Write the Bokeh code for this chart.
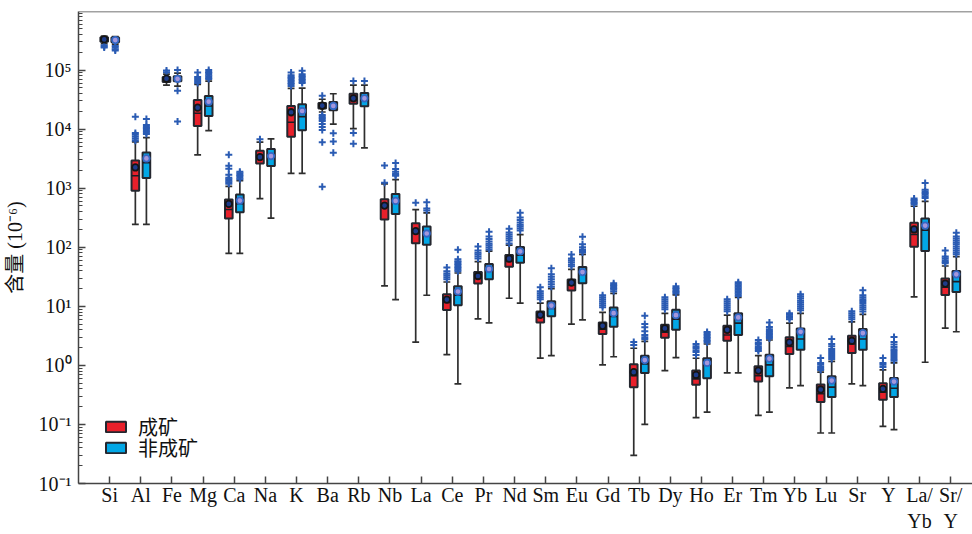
import numpy as np
from bokeh.plotting import figure
from bokeh.models import (ColumnDataSource, Range1d, FixedTicker, CustomJSTickFormatter,
                          Span, Legend, LegendItem)
from bokeh.embed import file_html
from bokeh.resources import INLINE

# ---------------- data ----------------
categories = ["Si", "Al", "Fe", "Mg", "Ca", "Na", "K", "Ba", "Rb", "Nb", "La", "Ce", "Pr", "Nd",
              "Sm", "Eu", "Gd", "Tb", "Dy", "Ho", "Er", "Tm", "Yb", "Lu", "Sr", "Y",
              "La/\nYb", "Sr/\nY"]

series_names = ["成矿", "非成矿"]

# 成矿 (ore-forming)
ore_low = [2.8e5, 243, 55700, 3670, 78.7, 666, 1778, 19500, 10200, 22.1, 2.48, 1.52, 6.14, 13.7,
           1.33, 4.99, 1.02, 0.030, 0.815, 0.130, 0.745, 0.142, 0.416, 0.0716, 0.486, 0.0927, 14.4, 4.27]
ore_q1 = [3.0e5, 908, 62560, 11330, 306, 2625, 7400, 22300, 26900, 294, 117, 8.7, 24.3, 46.9,
          5.33, 18.5, 3.39, 0.428, 2.94, 0.468, 2.61, 0.531, 1.56, 0.239, 1.62, 0.261, 102, 15.6]
ore_med = [3.25e5, 1626, 70300, 18540, 435, 3443, 13100, 24660, 31100, 488, 171, 11.6, 29.5, 57.7,
           6.56, 22.7, 4.11, 0.671, 3.66, 0.590, 3.26, 0.671, 2.10, 0.330, 2.30, 0.352, 164, 21.0]
ore_q3 = [3.6e5, 2944, 76000, 31100, 640, 4300, 24660, 27700, 39700, 647, 255, 16.0, 38.0, 73.6,
          8.18, 28.3, 5.33, 1.04, 4.86, 0.815, 4.68, 0.966, 2.98, 0.473, 3.17, 0.499, 259, 29.5]
ore_high = [3.75e5, 6085, 85300, 57200, 1074, 6015, 49000, 32000, 55700, 1178, 435, 25.8, 57.0, 109,
            11.3, 42.3, 7.87, 1.95, 7.57, 1.32, 7.08, 1.46, 5.19, 0.766, 5.46, 0.837, 494, 48.1]
ore_mean = [3.3e5, 2244, 71500, 23060, 542, 3360, 19280, 24900, 33200, 507, 187, 13.0, 32.6, 64.0,
            7.17, 25.2, 4.68, 0.766, 4.23, 0.690, 4.00, 0.815, 2.45, 0.390, 2.61, 0.400, 200, 24.3]
ore_outliers = [
    [2.62e5, 2.5e5, 2.42e5],
    [16250, 8630, 8000, 7400, 6840, 6330],
    [97800, 92200],
    [91200, 76000, 70300, 65000, 60100],
    [3670, 2400, 2135, 1690, 1503, 1420, 1340, 1260, 1191],
    [6760],
    [91200, 82000, 77000, 73100, 69000, 65000, 61000, 57900, 53600],
    [36700, 17400, 16400, 15460, 14600, 13760, 12240, 10900, 9700, 5970, 1062],
    [65000, 8630, 5640],
    [2430, 1240],
    [564],
    [45.2, 39.1, 36.0, 33.5, 31.0, 28.7],
    [103, 88.3, 81.0, 75.6, 70.0, 64.7],
    [205, 178, 165, 152, 140, 130, 116],
    [21.0, 18.0, 16.6, 15.4, 14.2, 13.2],
    [75.6, 64.7, 60.0, 55.5, 51.0, 47.5],
    [15.4, 14.2, 13.2, 12.2, 11.3, 10.4, 9.67],
    [2.48, 2.21],
    [14.3, 13.2, 12.2, 11.3, 10.4, 9.6, 8.93],
    [2.30, 2.10, 1.97, 1.80, 1.68, 1.50],
    [13.2, 12.2, 11.3, 10.4, 9.67, 8.9, 8.28],
    [2.69, 2.45, 2.30, 2.10, 1.97, 1.85, 1.75],
    [7.65, 7.2, 6.81, 6.4, 6.06],
    [1.33, 1.10, 1.02, 0.94, 0.88, 0.837],
    [8.28, 7.65, 7.08, 6.5, 6.06],
    [1.33, 1.10, 1.02, 0.94],
    [666, 630, 593, 560, 527],
    [88.3, 70.0, 65.0, 60.0, 56.5, 53.4],
]

# 非成矿 (non-ore-forming)
non_low = [2.75e5, 243, 53600, 9440, 78.7, 310, 1778, 12100, 4820, 13.0, 15.4, 0.486, 5.25, 11.3,
           1.46, 5.9, 1.40, 0.10, 1.35, 0.162, 0.745, 0.162, 0.455, 0.0716, 0.455, 0.0815, 1.13, 3.71]
non_q1 = [2.95e5, 1486, 64300, 16700, 391, 2370, 9590, 20850, 24400, 367, 110, 10.4, 28.7, 54.8,
          6.81, 24.5, 4.50, 0.745, 4.00, 0.607, 3.26, 0.655, 1.84, 0.290, 1.84, 0.290, 86.0, 17.5]
non_med = [3.2e5, 2692, 70300, 24660, 548, 3300, 16250, 24660, 31600, 617, 176, 15.4, 42.3, 73.6,
           9.19, 36.6, 6.73, 1.06, 6.06, 1.02, 5.19, 1.02, 2.79, 0.428, 2.79, 0.411, 195, 26.2]
non_q3 = [3.55e5, 4018, 78900, 36300, 778, 4590, 26300, 28770, 40800, 800, 224, 21.8, 51.9, 100.5,
          12.2, 46.2, 9.55, 1.46, 8.71, 1.32, 7.65, 1.52, 4.23, 0.655, 4.11, 0.614, 306, 39.5]
non_high = [3.7e5, 7194, 88700, 65000, 1340, 6840, 49600, 39700, 55700, 1393, 382, 36.6, 86.0, 164,
            20.0, 75.6, 16.6, 2.55, 15.6, 2.30, 14.1, 2.69, 7.57, 1.17, 7.28, 1.10, 600, 69.2]
non_mean = [3.22e5, 3184, 71000, 29100, 616, 3495, 20270, 24660, 33200, 609, 171, 17.8, 42.8, 85.1,
            10.3, 38.0, 7.65, 1.23, 7.08, 1.10, 6.48, 1.30, 3.71, 0.552, 3.52, 0.532, 233, 34.8]
non_outliers = [
    [2.55e5, 2.4e5, 2.25e5, 2.15e5],
    [14860, 11780, 11000, 10490, 9900, 9330, 8800, 8300],
    [99800, 44600, 13500],
    [99800, 93000, 88700, 83000, 78900, 74000, 70300],
    [1901, 1790, 1690, 1600, 1503, 1420],
    [],
    [97000, 85300, 80000, 76000, 71000, 67600, 63500, 60100],
    [8470, 6150, 3970],
    [65000],
    [2660, 2110, 1900, 1757, 1690, 1626],
    [577, 452, 418],
    [90.8, 62.4, 58.0, 55.5, 52.0, 49.4, 46.5, 44.0, 41.5, 39.1],
    [183, 152, 138, 125, 115, 107, 99, 91.9],
    [382, 318, 290, 262, 240, 224, 207, 192],
    [44.0, 34.8, 31.5, 28.7, 26.0, 23.6, 21.5],
    [150, 112, 100, 91.9, 86.0, 81.5],
    [24.5, 23.0, 21.8, 20.5, 19.4, 18.0],
    [6.89, 5.0, 4.40, 3.8, 3.26, 3.0, 2.79],
    [21.8, 20.5, 19.4, 18.2, 17.3, 16.4],
    [3.66, 3.45, 3.26, 3.05, 2.90, 2.72, 2.58, 2.45],
    [25.5, 24.0, 22.7, 21.4, 20.2, 19.0, 18.0, 17.0, 16.0, 15.0],
    [5.33, 4.45, 4.1, 3.81, 3.6, 3.39, 3.2, 3.02, 2.85],
    [16.0, 14.8, 13.7, 12.6, 11.7, 10.8, 10.0, 9.3, 8.61],
    [2.79, 2.30, 2.1, 1.90, 1.75, 1.62, 1.5, 1.39, 1.28],
    [18.7, 15.4, 14.2, 13.2, 12.3, 11.4, 10.4, 9.6, 8.93, 8.2],
    [3.02, 2.48, 2.25, 2.04, 1.88, 1.75, 1.62, 1.50, 1.39, 1.28, 1.2],
    [1225, 944, 880, 830, 780, 728, 680],
    [176, 152, 140, 130, 120, 112, 103, 95.5, 88.0, 81.5, 76.0],
]

ytick_vals = [0.01, 0.1, 1, 10, 100, 1e3, 1e4, 1e5]
ytick_text = ["10\u207b\u00b9", "10\u207b\u00b9", "10\u2070", "10\u00b9", "10\u00b2",
              "10\u00b3", "10\u2074", "10\u2075"]
y_title = "含量 (10\u207b\u2076)"

# ---------------- styling ----------------
SERIF = "'Liberation Serif', 'Noto Sans CJK SC'"
fills = ["#e8202b", "#02a7e6"]
offsets = [-0.175, 0.18]
mean_fill = ["#1d3c8c", "#a497dc"]
mean_line = ["#151515", "#3468c6"]
box_w = 0.245
cap_w = 0.22

p = figure(width=972, height=534, x_range=Range1d(0, 28.7), y_range=Range1d(0.01, 9.8e5),
           y_axis_type="log", output_backend="svg", toolbar_location=None,
           min_border_left=0, min_border_right=0, min_border_top=11, min_border_bottom=0)
p.xgrid.visible = False
p.ygrid.visible = False
p.outline_line_color = None
p.background_fill_color = "white"
p.border_fill_color = "white"

xpos = np.arange(1, len(categories) + 1)

box_renderers = []
all_series = [
    (ore_low, ore_q1, ore_med, ore_q3, ore_high, ore_mean, ore_outliers),
    (non_low, non_q1, non_med, non_q3, non_high, non_mean, non_outliers),
]
for s, (lo, q1, med, q3, hi, mn, outl) in enumerate(all_series):
    x = xpos + offsets[s]
    src = ColumnDataSource(dict(x=x, lo=lo, q1=q1, med=med, q3=q3, hi=hi, mn=mn,
                                xl=x - box_w / 2, xr=x + box_w / 2,
                                cl=x - cap_w / 2, cr=x + cap_w / 2))
    # whiskers
    p.segment(x0="x", y0="lo", x1="x", y1="q1", source=src, line_color="#2e2e2e", line_width=1.7)
    p.segment(x0="x", y0="q3", x1="x", y1="hi", source=src, line_color="#2e2e2e", line_width=1.7)
    p.segment(x0="cl", y0="lo", x1="cr", y1="lo", source=src, line_color="#2e2e2e", line_width=1.7)
    p.segment(x0="cl", y0="hi", x1="cr", y1="hi", source=src, line_color="#2e2e2e", line_width=1.7)
    # outliers
    ox, oy = [], []
    for i, vals in enumerate(outl):
        ox += [x[i]] * len(vals)
        oy += list(vals)
    p.scatter(ox, oy, marker="cross", size=7, line_color="#2a5bb3", line_width=2)
    # box
    r = p.vbar(x="x", width=box_w, bottom="q1", top="q3", source=src, fill_color=fills[s],
               line_color="#24272f", line_width=2)
    box_renderers.append(r)
    # median
    p.segment(x0="xl", y0="med", x1="xr", y1="med", source=src, line_color="#1c1c24", line_width=1.6)
    # mean
    p.scatter(x="x", y="mn", source=src, marker="circle", size=6.5, fill_color=mean_fill[s],
              line_color=mean_line[s], line_width=1.8)

# top border line
p.add_layout(Span(location=9.8e5, dimension="width", line_color="#444444", line_width=1.5))

# axes
xa = p.xaxis[0]
xa.ticker = FixedTicker(ticks=list(xpos))
xa.formatter = CustomJSTickFormatter(args=dict(labels=categories),
                                     code="return labels[Math.round(tick) - 1];")
xa.major_tick_in = 7
xa.major_tick_out = 0
xa.minor_tick_line_color = None
xa.axis_line_color = "#444444"
xa.axis_line_width = 1.5
xa.major_tick_line_color = "#444444"
xa.major_tick_line_width = 1.5
xa.major_label_text_font = SERIF
xa.major_label_text_font_size = "20px"
xa.major_label_text_color = "#111111"
xa.major_label_standoff = 0

minor = [m * 10.0 ** k for k in range(-2, 6) for m in range(2, 10)]
ya = p.yaxis[0]
ya.ticker = FixedTicker(ticks=ytick_vals, minor_ticks=minor)
ya.formatter = CustomJSTickFormatter(args=dict(vals=ytick_vals, labels=ytick_text), code="""
for (let i = 0; i < vals.length; i++) {
  if (Math.abs(Math.log10(vals[i]) - Math.log10(tick)) < 0.01) return labels[i];
}
return '';
""")
ya.major_tick_in = 7
ya.major_tick_out = 0
ya.minor_tick_in = 4
ya.minor_tick_out = 0
ya.axis_line_color = "#444444"
ya.axis_line_width = 1.5
ya.major_tick_line_color = "#444444"
ya.major_tick_line_width = 1.5
ya.minor_tick_line_color = "#444444"
ya.minor_tick_line_width = 1.2
ya.major_label_text_font = SERIF
ya.major_label_text_font_size = "20px"
ya.major_label_text_color = "#111111"
ya.major_label_standoff = 7
ya.axis_label = y_title
ya.axis_label_text_font = SERIF
ya.axis_label_text_font_size = "20px"
ya.axis_label_text_font_style = "normal"
ya.axis_label_text_color = "#111111"
ya.axis_label_standoff = 10

# one legend box per series so the two rows sit as close as in the reference
for i, yoff in enumerate([42, 21]):
    lg = Legend(items=[LegendItem(label=series_names[i], renderers=[box_renderers[i]])],
                location=(25, yoff), orientation="vertical",
                border_line_color=None, background_fill_alpha=0,
                padding=0, margin=0, spacing=0, glyph_width=25, glyph_height=13,
                label_text_font=SERIF, label_text_font_size="20px", label_text_color="#111111",
                label_standoff=10, label_height=14)
    p.add_layout(lg)

open("out.html", "w").write(file_html(p, INLINE))
